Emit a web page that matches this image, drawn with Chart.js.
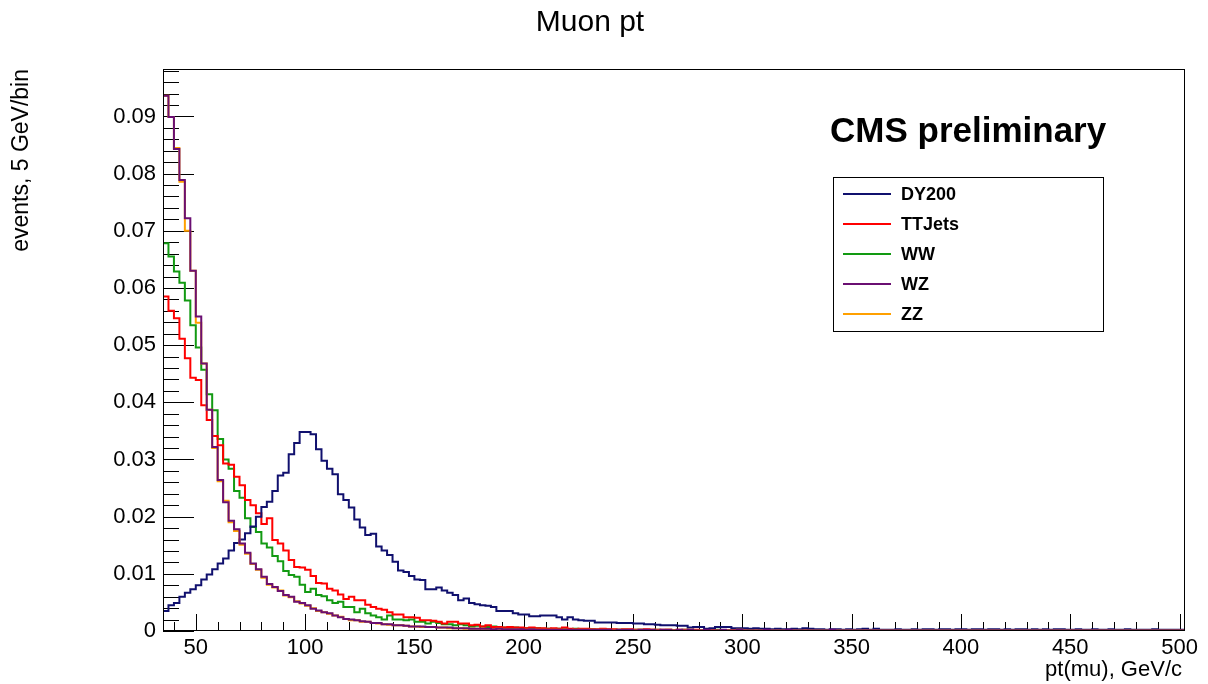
<!DOCTYPE html>
<html>
<head>
<meta charset="utf-8">
<title>Muon pt</title>
<script src="https://cdn.jsdelivr.net/npm/chart.js@4.4.1/dist/chart.umd.min.js"></script>
<style>
  html, body { margin: 0; padding: 0; background: #fff; }
  canvas { display: block; }
</style>
</head>
<body>
<canvas id="muonChart" width="1208" height="684"></canvas>
<script>
// histogram binning: 2.5 GeV bins from 35 to 502.5
const binStart = 35;
const binWidth = 2.5;

const sampleNames = ['DY200', 'TTJets', 'WW', 'WZ', 'ZZ'];
const sampleColors = ['#10106e', '#ff0000', '#129a12', '#6a0f72', '#ffa000'];

const xTickValues = [50, 100, 150, 200, 250, 300, 350, 400, 450, 500];
const yTickValues = [0, 0.01, 0.02, 0.03, 0.04, 0.05, 0.06, 0.07, 0.08, 0.09];

const dy200 = [
  0.0028, 0.0035, 0.0045, 0.0049, 0.0060, 0.0067, 0.0073, 0.0080, 0.0090, 0.0099,
  0.0108, 0.0118, 0.0127, 0.0141, 0.0154, 0.0160, 0.0171, 0.0183, 0.0200, 0.0217,
  0.0226, 0.0245, 0.0272, 0.0277, 0.0309, 0.0329, 0.0348, 0.0348, 0.0344, 0.0318,
  0.0298, 0.0284, 0.0274, 0.0239, 0.0229, 0.0216, 0.0195, 0.0181, 0.0168, 0.0170,
  0.0148, 0.0141, 0.0133, 0.0121, 0.0106, 0.0103, 0.0096, 0.0090, 0.0089, 0.0073,
  0.0073, 0.0076, 0.0071, 0.0067, 0.0063, 0.0054, 0.0057, 0.0049, 0.0047, 0.0045,
  0.0044, 0.0042, 0.0035, 0.0035, 0.0035, 0.0031, 0.0029, 0.0029, 0.0026, 0.0026,
  0.0027, 0.0027, 0.0027, 0.0024, 0.0020, 0.0024, 0.0020, 0.0019, 0.0018, 0.0018,
  0.0015, 0.0015, 0.0015, 0.0015, 0.0014, 0.0014, 0.0014, 0.0013, 0.0013, 0.0012,
  0.0012, 0.0011, 0.0010, 0.0010, 0.0010, 0.0009, 0.0009, 0.0006, 0.0007, 0.0007,
  0.0004, 0.0005, 0.0007, 0.0007, 0.0007, 0.0005, 0.0005, 0.0005, 0.0004, 0.0005,
  0.0004, 0.0004, 0.0003, 0.0004, 0.0003, 0.0003, 0.0004, 0.0003, 0.0005, 0.0004,
  0.0003, 0.0003, 0.0002, 0.0003, 0.0003, 0.0002, 0.0003, 0.0002, 0.0003, 0.0004,
  0.0002, 0.0004, 0.0002, 0.0002, 0.0002, 0.0003, 0.0002, 0.0002, 0.0003, 0.0002,
  0.0003, 0.0003, 0.0002, 0.0003, 0.0003, 0.0002, 0.0003, 0.0003, 0.0002, 0.0003,
  0.0003, 0.0002, 0.0003, 0.0003, 0.0002, 0.0003, 0.0002, 0.0003, 0.0003, 0.0002,
  0.0003, 0.0002, 0.0003, 0.0002, 0.0003, 0.0003, 0.0002, 0.0002, 0.0003, 0.0002,
  0.0002, 0.0003, 0.0002, 0.0002, 0.0003, 0.0002, 0.0002, 0.0003, 0.0002, 0.0002,
  0.0002, 0.0002, 0.0003, 0.0002, 0.0002, 0.0002, 0.0002
];

const ttJets = [
  0.0602, 0.0585, 0.0560, 0.0547, 0.0511, 0.0477, 0.0443, 0.0439, 0.0395, 0.0369,
  0.0341, 0.0325, 0.0293, 0.0291, 0.0270, 0.0255, 0.0229, 0.0220, 0.0206, 0.0187,
  0.0197, 0.0159, 0.0153, 0.0141, 0.0124, 0.0112, 0.0111, 0.0107, 0.0096, 0.0084,
  0.0083, 0.0074, 0.0071, 0.0064, 0.0056, 0.0060, 0.0054, 0.0054, 0.0046, 0.0042,
  0.0039, 0.0037, 0.0033, 0.0029, 0.0029, 0.0024, 0.0024, 0.0023, 0.0019, 0.0019,
  0.0018, 0.0016, 0.0013, 0.0016, 0.0016, 0.0013, 0.0013, 0.0010, 0.0011, 0.0008,
  0.0010, 0.0007, 0.0007, 0.0006, 0.0007, 0.0006, 0.0006, 0.0005, 0.0006, 0.0005,
  0.0005, 0.0004, 0.0005, 0.0004, 0.0006, 0.0004, 0.0003, 0.0004, 0.0004, 0.0003,
  0.0003, 0.0004, 0.0003, 0.0003, 0.0002, 0.0003, 0.0003, 0.0002, 0.0002, 0.0003,
  0.0002, 0.0002, 0.0002, 0.0002, 0.0001, 0.0002, 0.0002, 0.0001, 0.0002, 0.0001,
  0.0001, 0.0002, 0.0001, 0.0001, 0.0001, 0.0002, 0.0001, 0.0001, 0.0001, 0.0001,
  0.0001, 0.0001, 0.0001, 0.0001, 0.0001, 0.0001, 0.0002, 0.0001, 0.0001, 0.0001,
  0.0001, 0.0001, 0.0001, 0.0001, 0.0001, 0.0001, 0.0001, 0.0001, 0.0001, 0.0001,
  0.0001, 0.0001, 0.0000, 0.0001, 0.0001, 0.0001, 0.0001, 0.0000, 0.0001, 0.0001,
  0.0001, 0.0001, 0.0001, 0.0001, 0.0000, 0.0001, 0.0001, 0.0001, 0.0001, 0.0001,
  0.0001, 0.0000, 0.0001, 0.0001, 0.0001, 0.0001, 0.0000, 0.0001, 0.0001, 0.0001,
  0.0001, 0.0001, 0.0001, 0.0000, 0.0001, 0.0001, 0.0001, 0.0001, 0.0000, 0.0001,
  0.0001, 0.0001, 0.0000, 0.0001, 0.0001, 0.0001, 0.0001, 0.0001, 0.0001, 0.0000,
  0.0001, 0.0001, 0.0001, 0.0001, 0.0000, 0.0001, 0.0001
];

const ww = [
  0.0673, 0.0678, 0.0655, 0.0629, 0.0609, 0.0578, 0.0535, 0.0496, 0.0457, 0.0414,
  0.0386, 0.0336, 0.0300, 0.0284, 0.0245, 0.0233, 0.0197, 0.0182, 0.0173, 0.0153,
  0.0146, 0.0131, 0.0122, 0.0105, 0.0098, 0.0095, 0.0081, 0.0068, 0.0074, 0.0063,
  0.0061, 0.0054, 0.0049, 0.0051, 0.0042, 0.0042, 0.0033, 0.0039, 0.0031, 0.0027,
  0.0024, 0.0020, 0.0027, 0.0020, 0.0020, 0.0019, 0.0020, 0.0016, 0.0016, 0.0013,
  0.0016, 0.0014, 0.0012, 0.0012, 0.0010, 0.0012, 0.0010, 0.0008, 0.0009, 0.0008,
  0.0007, 0.0008, 0.0006, 0.0006, 0.0005, 0.0006, 0.0005, 0.0005, 0.0004, 0.0005,
  0.0004, 0.0004, 0.0003, 0.0004, 0.0003, 0.0003, 0.0004, 0.0003, 0.0002, 0.0003,
  0.0002, 0.0003, 0.0002, 0.0002, 0.0002, 0.0002, 0.0001, 0.0002, 0.0002, 0.0001,
  0.0001, 0.0002, 0.0001, 0.0001, 0.0001, 0.0001, 0.0002, 0.0001, 0.0001, 0.0001,
  0.0001, 0.0001, 0.0002, 0.0001, 0.0001, 0.0001, 0.0001, 0.0001, 0.0002, 0.0001,
  0.0001, 0.0001, 0.0001, 0.0001, 0.0001, 0.0001, 0.0001, 0.0001, 0.0001, 0.0001,
  0.0001, 0.0001, 0.0001, 0.0000, 0.0001, 0.0001, 0.0001, 0.0001, 0.0001, 0.0001,
  0.0001, 0.0001, 0.0001, 0.0001, 0.0001, 0.0000, 0.0001, 0.0001, 0.0001, 0.0001,
  0.0001, 0.0000, 0.0001, 0.0001, 0.0001, 0.0001, 0.0001, 0.0000, 0.0001, 0.0001,
  0.0001, 0.0001, 0.0001, 0.0001, 0.0000, 0.0001, 0.0001, 0.0001, 0.0001, 0.0000,
  0.0001, 0.0001, 0.0000, 0.0001, 0.0001, 0.0001, 0.0001, 0.0001, 0.0000, 0.0001,
  0.0001, 0.0001, 0.0001, 0.0001, 0.0000, 0.0001, 0.0001, 0.0001, 0.0001, 0.0001,
  0.0001, 0.0001, 0.0000, 0.0001, 0.0001, 0.0001, 0.0001
];

const wz = [
  0.0957, 0.0936, 0.0899, 0.0843, 0.0789, 0.0722, 0.0630, 0.0550, 0.0468, 0.0387,
  0.0322, 0.0264, 0.0225, 0.0193, 0.0178, 0.0153, 0.0137, 0.0118, 0.0108, 0.0095,
  0.0082, 0.0077, 0.0070, 0.0063, 0.0060, 0.0051, 0.0049, 0.0045, 0.0039, 0.0036,
  0.0033, 0.0031, 0.0027, 0.0024, 0.0021, 0.0020, 0.0019, 0.0017, 0.0016, 0.0014,
  0.0014, 0.0012, 0.0012, 0.0010, 0.0010, 0.0009, 0.0008, 0.0008, 0.0008, 0.0007,
  0.0007, 0.0006, 0.0006, 0.0006, 0.0005, 0.0005, 0.0005, 0.0004, 0.0004, 0.0004,
  0.0004, 0.0003, 0.0004, 0.0003, 0.0003, 0.0003, 0.0003, 0.0002, 0.0003, 0.0002,
  0.0002, 0.0002, 0.0002, 0.0002, 0.0002, 0.0002, 0.0002, 0.0002, 0.0002, 0.0002,
  0.0002, 0.0002, 0.0002, 0.0001, 0.0002, 0.0002, 0.0002, 0.0001, 0.0002, 0.0002,
  0.0002, 0.0001, 0.0002, 0.0002, 0.0001, 0.0002, 0.0001, 0.0002, 0.0001, 0.0001,
  0.0002, 0.0001, 0.0001, 0.0002, 0.0001, 0.0001, 0.0002, 0.0001, 0.0001, 0.0001,
  0.0001, 0.0002, 0.0001, 0.0001, 0.0001, 0.0002, 0.0001, 0.0001, 0.0001, 0.0001,
  0.0001, 0.0001, 0.0001, 0.0002, 0.0001, 0.0001, 0.0001, 0.0001, 0.0001, 0.0001,
  0.0001, 0.0001, 0.0001, 0.0001, 0.0001, 0.0001, 0.0001, 0.0001, 0.0001, 0.0001,
  0.0001, 0.0001, 0.0001, 0.0001, 0.0001, 0.0001, 0.0001, 0.0001, 0.0001, 0.0001,
  0.0001, 0.0001, 0.0001, 0.0001, 0.0001, 0.0001, 0.0001, 0.0001, 0.0001, 0.0001,
  0.0001, 0.0001, 0.0001, 0.0001, 0.0001, 0.0001, 0.0001, 0.0001, 0.0001, 0.0001,
  0.0001, 0.0001, 0.0001, 0.0001, 0.0001, 0.0001, 0.0001, 0.0001, 0.0001, 0.0001,
  0.0001, 0.0001, 0.0001, 0.0001, 0.0001, 0.0001, 0.0001
];

const zz = [
  0.0938, 0.0936, 0.0899, 0.0845, 0.0786, 0.0700, 0.0630, 0.0539, 0.0468, 0.0387,
  0.0320, 0.0262, 0.0228, 0.0190, 0.0175, 0.0151, 0.0135, 0.0117, 0.0107, 0.0093,
  0.0081, 0.0076, 0.0071, 0.0062, 0.0059, 0.0052, 0.0048, 0.0044, 0.0040, 0.0035,
  0.0033, 0.0030, 0.0027, 0.0025, 0.0021, 0.0019, 0.0019, 0.0016, 0.0016, 0.0014,
  0.0013, 0.0012, 0.0011, 0.0010, 0.0010, 0.0009, 0.0008, 0.0008, 0.0007, 0.0007,
  0.0007, 0.0006, 0.0006, 0.0005, 0.0005, 0.0005, 0.0004, 0.0004, 0.0004, 0.0004,
  0.0003, 0.0003, 0.0004, 0.0003, 0.0003, 0.0003, 0.0002, 0.0002, 0.0003, 0.0002,
  0.0002, 0.0002, 0.0002, 0.0002, 0.0002, 0.0001, 0.0002, 0.0002, 0.0002, 0.0002,
  0.0002, 0.0002, 0.0001, 0.0001, 0.0002, 0.0002, 0.0001, 0.0001, 0.0002, 0.0001,
  0.0002, 0.0001, 0.0001, 0.0002, 0.0001, 0.0001, 0.0001, 0.0002, 0.0001, 0.0001,
  0.0001, 0.0001, 0.0001, 0.0001, 0.0001, 0.0001, 0.0002, 0.0001, 0.0001, 0.0001,
  0.0001, 0.0001, 0.0001, 0.0001, 0.0001, 0.0001, 0.0001, 0.0001, 0.0001, 0.0001,
  0.0001, 0.0001, 0.0001, 0.0001, 0.0001, 0.0001, 0.0001, 0.0001, 0.0001, 0.0001,
  0.0001, 0.0001, 0.0001, 0.0001, 0.0001, 0.0001, 0.0001, 0.0001, 0.0001, 0.0001,
  0.0001, 0.0001, 0.0001, 0.0001, 0.0001, 0.0001, 0.0001, 0.0001, 0.0001, 0.0001,
  0.0001, 0.0001, 0.0001, 0.0001, 0.0001, 0.0001, 0.0001, 0.0001, 0.0001, 0.0001,
  0.0001, 0.0001, 0.0001, 0.0001, 0.0001, 0.0001, 0.0001, 0.0001, 0.0001, 0.0001,
  0.0001, 0.0001, 0.0001, 0.0001, 0.0001, 0.0001, 0.0001, 0.0001, 0.0001, 0.0001,
  0.0001, 0.0001, 0.0001, 0.0001, 0.0001, 0.0001, 0.0001
];

const sampleValues = [dy200, ttJets, ww, wz, zz];
// lower order is drawn on top: WZ covers ZZ like in the original plot
const drawOrder = [2, 3, 4, 0, 1];

const FONT = "'Liberation Sans', Arial, Helvetica, sans-serif";
Chart.defaults.font.family = FONT;
Chart.defaults.color = '#000';

// step histogram: one point per bin low edge plus the closing upper edge
function histPoints(values) {
  const pts = values.map((v, i) => ({ x: binStart + i * binWidth, y: v }));
  pts.push({ x: binStart + values.length * binWidth, y: values[values.length - 1] });
  return pts;
}

// ROOT-like frame, inward ticks, titles and legend box
const rootStyle = {
  id: 'rootStyle',
  beforeDatasetsDraw(chart) {
    const { ctx, chartArea: a, scales: { x, y } } = chart;
    ctx.save();
    ctx.strokeStyle = '#000';
    ctx.lineWidth = 1;
    ctx.beginPath();
    for (let v = 40; v <= 500; v += 10) {
      const px = Math.round(x.getPixelForValue(v)) + 0.5;
      const len = v % 50 === 0 ? 17 : 9;
      ctx.moveTo(px, a.bottom);
      ctx.lineTo(px, a.bottom - len);
    }
    for (let i = 0; i <= 49; i++) {
      const py = Math.round(y.getPixelForValue(i * 0.002)) + 0.5;
      const len = i % 5 === 0 ? 31 : 16;
      ctx.moveTo(a.left, py);
      ctx.lineTo(a.left + len, py);
    }
    ctx.stroke();
    ctx.restore();
  },
  afterDraw(chart) {
    const { ctx, chartArea: a } = chart;
    ctx.save();
    ctx.strokeStyle = '#000';
    ctx.lineWidth = 1;
    ctx.strokeRect(a.left + 0.5, a.top + 0.5, a.right - a.left - 1, a.bottom - a.top - 1);

    ctx.fillStyle = '#000';
    ctx.font = `30px ${FONT}`;
    ctx.textAlign = 'center';
    ctx.textBaseline = 'middle';
    ctx.fillText('Muon pt', 590, 23);

    ctx.font = `22px ${FONT}`;
    ctx.textAlign = 'right';
    ctx.textBaseline = 'alphabetic';
    ctx.fillText('pt(mu), GeV/c', a.right - 3, 676);

    ctx.font = `23px ${FONT}`;
    ctx.save();
    ctx.translate(28, a.top);
    ctx.rotate(-Math.PI / 2);
    ctx.textAlign = 'right';
    ctx.fillText('events, 5 GeV/bin', 0, 0);
    ctx.restore();

    ctx.font = `bold 35px ${FONT}`;
    ctx.textAlign = 'left';
    ctx.fillText('CMS preliminary', 830, 142);

    // legend
    const lx = 833.5, ly = 177.5, lw = 270, lh = 154;
    ctx.fillStyle = '#fff';
    ctx.fillRect(lx, ly, lw, lh);
    ctx.strokeRect(lx, ly, lw, lh);
    ctx.font = `bold 18px ${FONT}`;
    ctx.textBaseline = 'middle';
    sampleNames.forEach((name, i) => {
      const cy = 194 + i * 30;
      ctx.strokeStyle = sampleColors[i];
      ctx.lineWidth = 2;
      ctx.beginPath();
      ctx.moveTo(843, cy);
      ctx.lineTo(891, cy);
      ctx.stroke();
      ctx.fillStyle = '#000';
      ctx.fillText(name, 901, cy + 1);
    });
    ctx.restore();
  }
};

new Chart(document.getElementById('muonChart'), {
  type: 'line',
  data: {
    datasets: sampleNames.map((name, i) => ({
      label: name,
      data: histPoints(sampleValues[i]),
      borderColor: sampleColors[i],
      borderWidth: 2,
      stepped: 'after',
      pointRadius: 0,
      fill: false,
      order: drawOrder[i],
    })),
  },
  options: {
    responsive: false,
    animation: false,
    events: [],
    layout: { padding: { top: 69, right: 23, left: 0, bottom: 0 } },
    plugins: {
      legend: { display: false },
      tooltip: { enabled: false },
    },
    scales: {
      x: {
        type: 'linear',
        min: 35,
        max: 502.5,
        afterBuildTicks: s => { s.ticks = xTickValues.map(v => ({ value: v })); },
        afterFit: s => { s.height = 53; },
        grid: { display: false, drawTicks: false },
        border: { display: false },
        ticks: {
          padding: 4,
          autoSkip: false,
          maxRotation: 0,
          font: { size: 22 },
          color: '#000',
          callback: v => String(v),
        },
      },
      y: {
        type: 'linear',
        min: 0,
        max: 0.0983,
        afterBuildTicks: s => { s.ticks = yTickValues.map(v => ({ value: v })); },
        afterFit: s => { s.width = 163; },
        grid: { display: false, drawTicks: false },
        border: { display: false },
        ticks: {
          padding: 7,
          font: { size: 22 },
          color: '#000',
          callback: v => (v === 0 ? '0' : v.toFixed(2)),
        },
      },
    },
  },
  plugins: [rootStyle],
});
</script>
</body>
</html>
